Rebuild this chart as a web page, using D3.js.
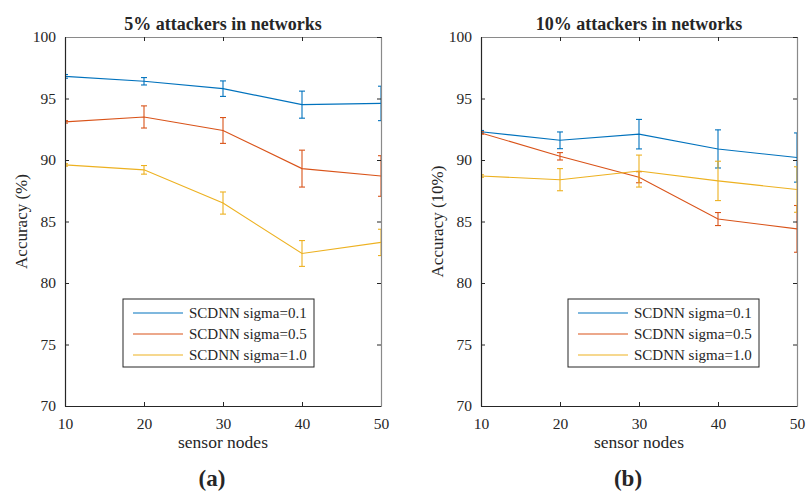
<!DOCTYPE html>
<html lang="en">
<head>
    <meta charset="UTF-8">
    <title>SCDNN accuracy vs sensor nodes</title>
    <script src="https://cdnjs.cloudflare.com/ajax/libs/d3/7.8.5/d3.min.js"></script>
    <style>
        body { margin: 0; background: #fff; }
        svg { display: block; }
        text { font-family: "Liberation Serif", "Times New Roman", serif; fill: #262626; }
    </style>
</head>
<body>
    <div id="chart"></div>

    <script>
        // data
        const nodes = [10, 20, 30, 40, 50];
        const seriesNames = ['SCDNN sigma=0.1', 'SCDNN sigma=0.5', 'SCDNN sigma=1.0'];
        const colors = ['#0072BD', '#D95319', '#EDB120'];
        const yTicks = [70, 75, 80, 85, 90, 95, 100];

        // panel (a): 5% attackers
        const a_s01 = [96.8, 96.4, 95.8, 94.5, 94.6];
        const a_s01_err = [0.15, 0.3, 0.63, 1.1, 1.4];
        const a_s05 = [93.1, 93.5, 92.4, 89.3, 88.7];
        const a_s05_err = [0.1, 0.9, 1.05, 1.5, 1.65];
        const a_s10 = [89.6, 89.2, 86.5, 82.4, 83.3];
        const a_s10_err = [0.1, 0.35, 0.9, 1.05, 1.07];

        // panel (b): 10% attackers
        const b_s01 = [92.3, 91.6, 92.1, 90.9, 90.2];
        const b_s01_err = [0.1, 0.68, 1.2, 1.55, 2.0];
        const b_s05 = [92.2, 90.3, 88.6, 85.2, 84.4];
        const b_s05_err = [0.1, 0.3, 0.45, 0.53, 1.9];
        const b_s10 = [88.7, 88.4, 89.1, 88.3, 87.6];
        const b_s10_err = [0.1, 0.9, 1.3, 1.6, 1.85];

        const W = 806, H = 491;
        const svg = d3.select('#chart').append('svg')
            .attr('width', W).attr('height', H);

        const panels = [
            {
                left: 65, title: '5% attackers in networks', ylabel: 'Accuracy (%)', tag: '(a)',
                series: [[a_s01, a_s01_err], [a_s05, a_s05_err], [a_s10, a_s10_err]]
            },
            {
                left: 481, title: '10% attackers in networks', ylabel: 'Accuracy (10%)', tag: '(b)',
                series: [[b_s01, b_s01_err], [b_s05, b_s05_err], [b_s10, b_s10_err]]
            }
        ];

        const plotW = 316, plotTop = 37, plotBottom = 406;

        panels.forEach((p, pi) => {
            const g = svg.append('g');
            const x = d3.scaleLinear().domain([10, 50]).range([p.left, p.left + plotW]);
            const y = d3.scaleLinear().domain([70, 100]).range([plotBottom, plotTop]);

            // clip to axes box
            const clipId = 'clip' + pi;
            svg.append('clipPath').attr('id', clipId)
                .append('rect')
                .attr('x', p.left).attr('y', plotTop)
                .attr('width', plotW).attr('height', plotBottom - plotTop);

            const plot = g.append('g').attr('clip-path', `url(#${clipId})`);

            p.series.forEach(([vals, errs], si) => {
                const pts = nodes.map((n, i) => ({ x: n, v: vals[i], e: errs[i] }));
                plot.append('path')
                    .datum(pts)
                    .attr('fill', 'none')
                    .attr('stroke', colors[si])
                    .attr('stroke-width', 1.1)
                    .attr('d', d3.line().x(d => x(d.x)).y(d => y(d.v)));

                const eb = plot.append('g').attr('stroke', colors[si]).attr('stroke-width', 1.1);
                pts.forEach(d => {
                    const cx = x(d.x), y1 = y(d.v + d.e), y2 = y(d.v - d.e);
                    eb.append('line').attr('x1', cx).attr('x2', cx).attr('y1', y1).attr('y2', y2);
                    eb.append('line').attr('x1', cx - 3).attr('x2', cx + 3).attr('y1', y1).attr('y2', y1);
                    eb.append('line').attr('x1', cx - 3).attr('x2', cx + 3).attr('y1', y2).attr('y2', y2);
                });
            });

            // axes
            const xAxis = d3.axisBottom(x).tickValues(nodes).tickSizeInner(-4).tickSizeOuter(0).tickPadding(12);
            const yAxis = d3.axisLeft(y).tickValues(yTicks).tickSizeInner(-4).tickSizeOuter(0).tickPadding(9);

            const gx = g.append('g').attr('transform', `translate(0,${plotBottom})`).call(xAxis);
            const gy = g.append('g').attr('transform', `translate(${p.left},0)`).call(yAxis);
            [gx, gy].forEach(ax => {
                ax.select('.domain').attr('stroke', '#262626').attr('stroke-width', 1.2);
                ax.selectAll('.tick line').attr('stroke', '#262626');
                ax.selectAll('.tick text')
                    .attr('font-family', '"Liberation Serif", serif')
                    .attr('font-size', 15.5)
                    .attr('fill', '#262626');
            });

            // top and right box with inward ticks
            const gt = g.append('g').attr('transform', `translate(0,${plotTop})`)
                .call(d3.axisTop(x).tickValues(nodes).tickSizeInner(-4).tickSizeOuter(0).tickFormat(''));
            const gr = g.append('g').attr('transform', `translate(${p.left + plotW},0)`)
                .call(d3.axisRight(y).tickValues(yTicks).tickSizeInner(-4).tickSizeOuter(0).tickFormat(''));
            [gt, gr].forEach(ax => {
                ax.select('.domain').attr('stroke', '#8a8a8a').attr('stroke-width', 1.2);
                ax.selectAll('.tick line').attr('stroke', '#262626');
            });

            // title
            g.append('text')
                .attr('x', p.left + plotW / 2).attr('y', 30)
                .attr('text-anchor', 'middle')
                .attr('font-size', 18).attr('font-weight', 'bold')
                .attr('fill', '#000')
                .text(p.title);

            // axis labels
            g.append('text')
                .attr('x', p.left + plotW / 2).attr('y', 448)
                .attr('text-anchor', 'middle')
                .attr('font-size', 17.5)
                .text('sensor nodes');

            g.append('text')
                .attr('transform', `translate(${p.left - 38},${(plotTop + plotBottom) / 2}) rotate(-90)`)
                .attr('text-anchor', 'middle')
                .attr('font-size', 17)
                .text(p.ylabel);

            // sub-figure tag
            g.append('text')
                .attr('x', p.left + plotW / 2 - 11).attr('y', 486)
                .attr('text-anchor', 'middle')
                .attr('font-size', 23).attr('font-weight', 'bold')
                .attr('fill', '#000')
                .text(p.tag);

            // legend
            const lx = p.left + (pi === 0 ? 58 : 87), ly = 299;
            const leg = g.append('g');
            leg.append('rect')
                .attr('x', lx).attr('y', ly)
                .attr('width', 191).attr('height', 68)
                .attr('fill', '#fff')
                .attr('stroke', '#262626').attr('stroke-width', 1);
            seriesNames.forEach((name, si) => {
                const ry = ly + 14 + si * 21;
                leg.append('line')
                    .attr('x1', lx + 10).attr('x2', lx + 60)
                    .attr('y1', ry).attr('y2', ry)
                    .attr('stroke', colors[si]).attr('stroke-width', 1.1);
                leg.append('text')
                    .attr('x', lx + 66).attr('y', ry + 5)
                    .attr('font-size', 15)
                    .attr('fill', '#000')
                    .text(name);
            });
        });
    </script>
</body>
</html>
